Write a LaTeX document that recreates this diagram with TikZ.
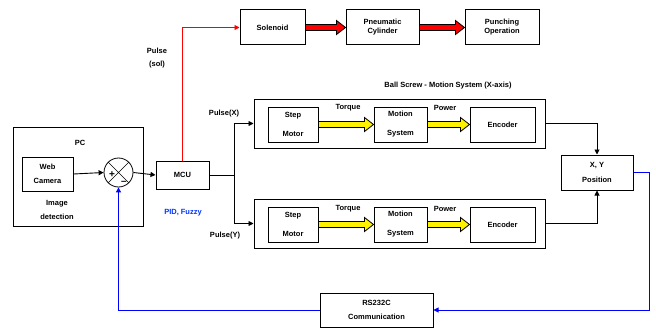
\documentclass[tikz,border=0pt]{standalone}
\usepackage{fontspec}
\setmainfont{Liberation Sans}
\usetikzlibrary{arrows.meta,calc}
\tikzset{
  blk/.style={draw, line width=1pt, inner sep=0pt, align=center, font=\fontsize{7.5}{9}\selectfont\bfseries},
  lbl/.style={inner sep=0pt, align=center, font=\fontsize{7.5}{9}\selectfont\bfseries},
  conn/.style={line width=0.9pt},
  tip/.style={-{Triangle[length=5pt,width=5pt]}},
}
\newcommand\fatarrow[3]{%
  \draw[line width=0.8pt, fill=#3] let \p1=(#1.east), \p2=(#2.west) in
    (\x1,\y1+3pt) -- (\x2-9pt,\y1+3pt) -- (\x2-9pt,\y1+7pt) -- (\x2,\y1) --
    (\x2-9pt,\y1-7pt) -- (\x2-9pt,\y1-3pt) -- (\x1,\y1-3pt) -- cycle;}
\begin{document}
\begin{tikzpicture}[x=1pt,y=-1pt]
\useasboundingbox (0,0) rectangle (656,329);
% top chain
\node[blk, minimum width=65pt, minimum height=35pt] (sol) at (272.5,27.5) {Solenoid};
\node[blk, minimum width=73pt, minimum height=35pt] (cyl) at (382.5,27.5) {Pneumatic\\Cylinder};
\node[blk, minimum width=74pt, minimum height=35pt] (pos) at (502,27.5) {Punching\\Operation};
\node[lbl, font=\fontsize{7.5}{13}\selectfont\bfseries] (pulsesol) at (157,58) {Pulse\\(sol)};
% PC
\node[blk, minimum width=130pt, minimum height=99pt] (pc) at (78,176.5) {};
\node[lbl] (pclbl) at (80,143) {PC};
\node[blk, minimum width=51pt, minimum height=34pt, font=\fontsize{7.5}{14}\selectfont\bfseries] (cam) at (47.5,174) {Web\\Camera};
\node[lbl, font=\fontsize{7.5}{14}\selectfont\bfseries] (imgdet) at (57,210) {Image\\detection};
\node[draw, circle, line width=0.8pt, minimum size=29pt, inner sep=0pt] (sum) at (118.5,172.5) {};
\draw[line width=0.7pt] (sum.north east) -- (sum.south west) (sum.north west) -- (sum.south east);
\node[lbl, font=\fontsize{10}{10}\selectfont\bfseries] (plus) at (112,175) {+};
\node[lbl, font=\fontsize{10}{10}\selectfont\bfseries] (minus) at (124,183) {\textendash};
\node[blk, minimum width=53pt, minimum height=28pt] (mcu) at (182.5,175) {MCU};
\node[lbl, text=blue!80!cyan] (pid) at (183,213) {PID, Fuzzy};
\coordinate (j) at (234,175);
% axis boxes
\node[lbl] (title) at (448,86) {Ball Screw - Motion System (X-axis)};
\node[blk, minimum width=291pt, minimum height=49pt] (bx) at (399.5,123.5) {};
\node[blk, minimum width=291pt, minimum height=49pt] (by) at (399.5,223.5) {};
\tikzset{inner/.style={blk, minimum height=35pt, font=\fontsize{7.5}{19}\selectfont\bfseries}}
\node[inner, minimum width=50pt] (smx) at (293,124.5) {Step\\Motor};
\node[inner, minimum width=53pt] (msx) at (400.5,124.5) {Motion\\System};
\node[inner, minimum width=65pt] (encx) at (502.5,124.5) {Encoder};
\node[inner, minimum width=50pt] (smy) at (293,224.5) {Step\\Motor};
\node[inner, minimum width=53pt] (msy) at (400.5,224.5) {Motion\\System};
\node[inner, minimum width=65pt] (ency) at (502.5,224.5) {Encoder};
\node[lbl] (tqx) at (348,108) {Torque};
\node[lbl] (pwx) at (445,108) {Power};
\node[lbl] (tqy) at (348,209) {Torque};
\node[lbl] (pwy) at (445,209) {Power};
\node[lbl] (pulx) at (224,114) {Pulse(X)};
\node[lbl] (puly) at (225,236) {Pulse(Y)};
\node[blk, minimum width=72pt, minimum height=35pt, font=\fontsize{7.5}{15}\selectfont\bfseries] (xy) at (597,172.5) {X, Y\\Position};
\node[blk, minimum width=113pt, minimum height=34pt, font=\fontsize{7.5}{14}\selectfont\bfseries] (rs) at (376.5,310) {RS232C\\Communication};
% connectors
\draw[conn, red, tip] (mcu.north) |- (sol.west);
\fatarrow{sol}{cyl}{red}
\fatarrow{cyl}{pos}{red}
\fatarrow{smx}{msx}{yellow}
\fatarrow{msx}{encx}{yellow}
\fatarrow{smy}{msy}{yellow}
\fatarrow{msy}{ency}{yellow}
\draw[conn, tip] (cam.east) -- (sum.west);
\draw[conn, tip] (sum.east) -- (mcu.west);
\draw[conn] (mcu.east) -- (j);
\draw[conn, tip] (j) |- (bx.west);
\draw[conn, tip] (j) |- (by.west);
\draw[conn, tip] (bx.east) -| (xy.north);
\draw[conn, tip] (by.east) -| (xy.south);
\draw[conn, blue, tip] (xy.east) -- ++(16,0) |- (rs.east);
\draw[conn, blue, tip] (rs.west) -| (sum.south);
\end{tikzpicture}
\end{document}
